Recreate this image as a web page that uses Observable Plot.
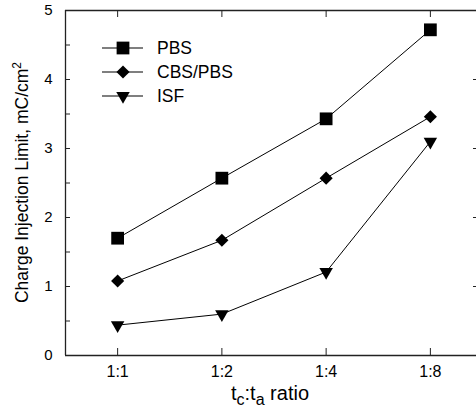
<!DOCTYPE html>
<html><head><meta charset="utf-8">
<script src="https://cdn.jsdelivr.net/npm/d3@7"></script>
<script src="https://cdn.jsdelivr.net/npm/@observablehq/plot@0.6"></script>
<style>
body{margin:0;background:#fff;}
#chart svg{font-family:"Liberation Sans",Arial,sans-serif;}
</style></head><body><div id="chart"></div>
<script>
// ---- data ----
const ratios = ["1:1", "1:2", "1:4", "1:8"];
const pbs = [1.70, 2.57, 3.43, 4.72];
const cbsPbs = [1.08, 1.67, 2.57, 3.46];
const isf = [0.44, 0.60, 1.21, 3.10];
const seriesNames = ["PBS", "CBS/PBS", "ISF"];
const yMajorTicks = [0, 1, 2, 3, 4, 5];
const yMinorTicks = [0.5, 1, 1.5, 2, 2.5, 3, 3.5, 4, 4.5];
const yRightTicks = [1, 2, 3, 4];
const yLabelText = "Charge Injection Limit, mC/cm";
const yLabelSup = "2";

// ---- build table ----
const seriesValues = [pbs, cbsPbs, isf];
const rows = [];
seriesNames.forEach((s, k) => seriesValues[k].forEach((v, i) => rows.push({series: s, i, ratio: ratios[i], value: v})));
const idx = ratios.map((_, i) => i);

const W = 476, H = 414, mL = 65, mR = 0, mT = 10, mB = 59;
const frameW = W - mL - mR, frameH = H - mT - mB;

const symbolStyle = {
  "PBS": {symbol: "square", r: 7.2, rotate: 0},
  "CBS/PBS": {symbol: "diamond2", r: 5.9, rotate: 0},
  "ISF": {symbol: "triangle", r: 5.0, rotate: 180}
};

const marks = [
  Plot.ruleY([0, 5], {stroke: "#222", strokeWidth: 1.3}),
  Plot.ruleX([-0.5], {stroke: "#222", strokeWidth: 1.3}),
  Plot.tickY(yMinorTicks, {y: d => d, insetRight: frameW - 5, stroke: "#222"}),
  Plot.tickY(yRightTicks, {y: d => d, insetLeft: frameW - 3, stroke: "#222"}),
  Plot.tickX(idx, {x: d => d, insetBottom: frameH - 7, stroke: "#222"}),
  Plot.tickX(idx, {x: d => d, insetTop: frameH - 7, stroke: "#222"}),
  Plot.line(rows, {x: "i", y: "value", z: "series", stroke: "black", strokeWidth: 1}),
  ...seriesNames.map(s => Plot.dot(rows.filter(d => d.series === s), {
    x: "i", y: "value", fill: "black", stroke: "none", ...symbolStyle[s]
  })),
  Plot.axisY(yMajorTicks, {tickSize: 0, tickPadding: 13, fontSize: 15, label: null, tickFormat: d => String(d)}),
  Plot.axisX(idx, {tickSize: 0, tickPadding: 10, fontSize: 16, label: null, tickFormat: i => ratios[i]})
];

const chart = Plot.plot({
  width: W, height: H,
  marginLeft: mL, marginRight: mR, marginTop: mT, marginBottom: mB,
  x: {type: "linear", domain: [-0.5, 3.5], range: [mL, 482]},
  y: {domain: [0, 5]},
  style: {fontFamily: "'Liberation Sans', Arial, sans-serif", fontSize: "15px", color: "black", background: "white", overflow: "visible"},
  marks
});
document.getElementById("chart").appendChild(chart);

// ---- labels & legend ----
const svg = d3.select(chart);
const fontFam = "'Liberation Sans', Arial, sans-serif";
svg.selectAll('g[aria-label="x-axis tick label"] text').style("font-size", "16px");
svg.selectAll('g[aria-label="y-axis tick label"] text').style("font-size", "15px");

const yl = svg.append("text")
  .attr("transform", `translate(28,${(mT + H - mB) / 2}) rotate(-90)`)
  .attr("text-anchor", "middle")
  .attr("font-family", fontFam).attr("font-size", 17.5).attr("fill", "black");
yl.append("tspan").text(yLabelText);
yl.append("tspan").attr("dy", -7).attr("font-size", 12).text(yLabelSup);

const xl = svg.append("text")
  .attr("x", 270).attr("y", 400)
  .attr("text-anchor", "middle")
  .attr("font-family", fontFam).attr("font-size", 20).attr("fill", "black");
xl.append("tspan").text("t");
xl.append("tspan").attr("dy", 5).attr("font-size", 16).text("c");
xl.append("tspan").attr("dy", -5).text(":t");
xl.append("tspan").attr("dy", 5).attr("font-size", 16).text("a");
xl.append("tspan").attr("dy", -5).text("\u00a0ratio");

const d3sym = {square: d3.symbolSquare, diamond2: d3.symbolDiamond2, triangle: d3.symbolTriangle};
seriesNames.forEach((s, k) => {
  const cy = 48 + k * 24;
  const g = svg.append("g");
  g.append("line").attr("x1", 102).attr("x2", 143).attr("y1", cy).attr("y2", cy).attr("stroke", "black").attr("stroke-width", 1.2);
  const st = symbolStyle[s];
  g.append("path")
    .attr("d", d3.symbol(d3sym[st.symbol], st.r * st.r * Math.PI)())
    .attr("transform", `translate(123,${cy}) rotate(${st.rotate})`)
    .attr("fill", "black");
  g.append("text").attr("x", 157).attr("y", cy + 6.2)
    .attr("text-anchor", "start")
    .attr("font-family", fontFam).attr("font-size", 17.5).attr("fill", "black").text(s);
});
</script></body></html>
